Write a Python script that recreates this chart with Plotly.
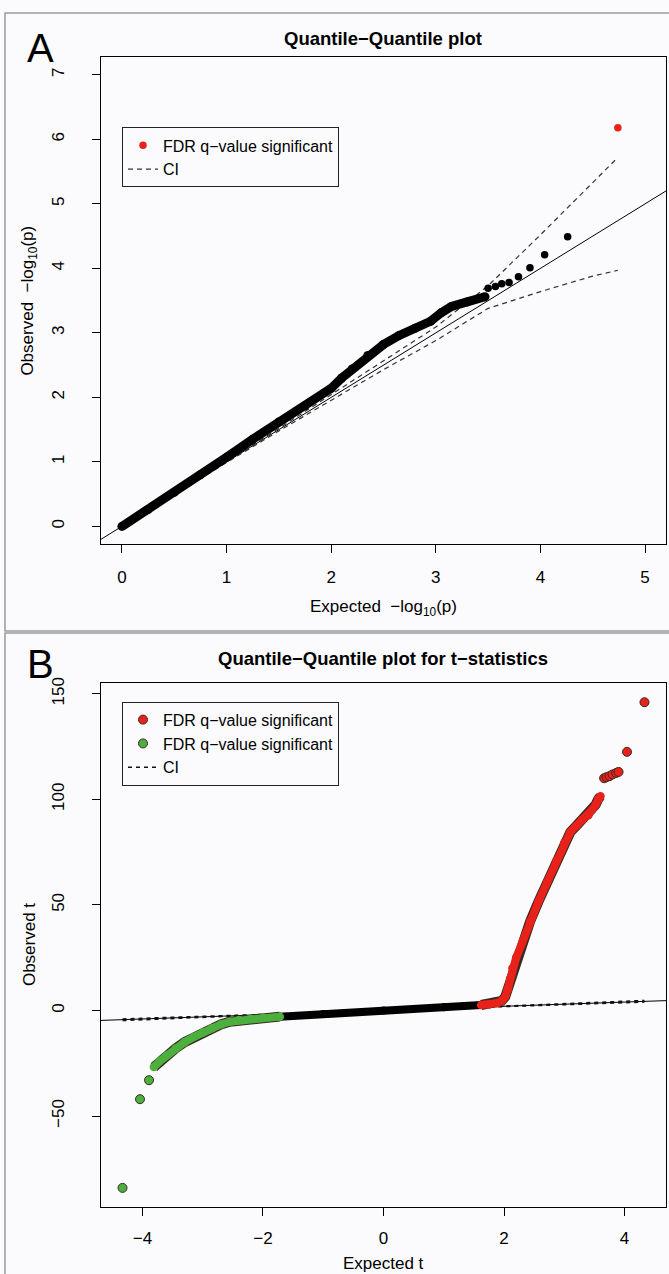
import plotly.graph_objects as go

# ---------------- DATA ----------------
# Panel A: -log10(p) QQ plot
a_band_exp = [0.0, 0.25, 0.5, 0.75, 1.0, 1.25, 1.5, 1.75, 2.0, 2.1, 2.2, 2.35, 2.5, 2.65, 2.8, 2.95, 3.05, 3.15, 3.3, 3.47]
a_band_obs = [0.0, 0.26, 0.53, 0.80, 1.07, 1.35, 1.62, 1.87, 2.14, 2.30, 2.44, 2.65, 2.82, 2.96, 3.07, 3.18, 3.31, 3.41, 3.48, 3.56]
a_tail_exp = [3.50, 3.57, 3.63, 3.70, 3.79, 3.90, 4.04, 4.26]
a_tail_obs = [3.69, 3.72, 3.76, 3.78, 3.87, 4.01, 4.21, 4.49]
a_sig_exp = [4.74]
a_sig_obs = [6.18]
a_ci_exp = [0.0, 0.5, 1.0, 1.5, 2.0, 2.5, 3.0, 3.5, 4.0, 4.5, 4.74]
a_ci_upper = [0.0, 0.5, 1.01, 1.52, 2.04, 2.56, 3.09, 3.73, 4.52, 5.33, 5.72]
a_ci_lower = [0.0, 0.5, 0.99, 1.48, 1.96, 2.43, 2.88, 3.38, 3.64, 3.88, 3.97]
a_xlim = [-0.2, 5.2]
a_ylim = [-0.28, 7.28]
a_xticks = [0, 1, 2, 3, 4, 5]
a_yticks = [0, 1, 2, 3, 4, 5, 6, 7]

# Panel B: t-statistics QQ plot
b_band_exp = [-1.72, -1.0, 0.0, 1.0, 1.62]
b_band_obs = [-3.0, -1.7, 0.0, 1.6, 2.6]
b_red_exp = [1.62, 1.75, 1.88, 1.96, 2.02, 2.06, 2.10, 2.14, 2.20, 2.30, 2.43, 2.57, 2.72, 2.87, 3.00, 3.10, 3.20, 3.30, 3.40, 3.46, 3.52, 3.56, 3.60]
b_red_obs = [2.6, 2.9, 3.5, 4.5, 6.5, 10.0, 15.0, 20.0, 25.0, 32.0, 42.0, 51.5, 61.0, 71.0, 79.5, 84.5, 87.5, 90.5, 92.5, 95.0, 97.5, 100.0, 101.5]
b_red_tail_exp = [3.66, 3.70, 3.75, 3.80, 3.86, 3.90, 4.04, 4.33]
b_red_tail_obs = [110.0, 110.5, 111.0, 111.8, 112.5, 113.0, 122.5, 146.0]
b_green_exp = [-1.72, -2.0, -2.2, -2.4, -2.55, -2.7, -2.85, -3.0, -3.15, -3.3, -3.45, -3.6, -3.72, -3.81]
b_green_obs = [-2.9, -3.4, -3.9, -4.5, -5.3, -6.6, -8.4, -10.4, -12.6, -15.0, -18.0, -21.3, -24.2, -26.8]
b_green_tail_exp = [-3.89, -4.04, -4.33]
b_green_tail_obs = [-33.0, -42.0, -84.0]
b_ci_exp = [-4.33, -3.0, -2.0, 0.0, 2.0, 3.0, 4.33]
b_ci_upper = [-4.0, -2.85, -1.92, 0.0, 2.08, 3.15, 4.75]
b_ci_lower = [-4.75, -3.15, -2.08, 0.0, 1.92, 2.85, 4.0]
b_xlim = [-4.687, 4.687]
b_ylim = [-93.2, 155.2]
b_xticks = [-4, -2, 0, 2, 4]
b_yticks = [-50, 0, 50, 100, 150]

abline_intercept = 0.0
abline_slope = 1.0

legend_sig = "FDR q\u2212value significant"
legend_ci = "CI"

# ---------------- STYLE ----------------
W, H = 669, 1274
FONT = "Liberation Sans, Arial, Helvetica, sans-serif"
BG = "#FBFBFD"
RED = "#E8221B"
GREEN = "#4CAF3E"
OUTLINE = "#3a2a20"


def px(x):
    return x / W


def py(y):
    return 1 - y / H


fig = go.Figure()

# ---- Panel A ----
fig.add_trace(go.Scatter(x=a_xlim, y=[abline_intercept + abline_slope * v for v in a_xlim],
                         mode="lines", line=dict(color="black", width=1),
                         xaxis="x", yaxis="y", showlegend=False, hoverinfo="skip"))
fig.add_trace(go.Scatter(x=a_ci_exp, y=a_ci_upper, mode="lines", name=legend_ci,
                         line=dict(color="#333", width=1.2, dash="5px,4px"),
                         xaxis="x", yaxis="y", legend="legend", legendrank=3))
fig.add_trace(go.Scatter(x=a_ci_exp, y=a_ci_lower, mode="lines", showlegend=False,
                         line=dict(color="#333", width=1.2, dash="5px,4px"),
                         xaxis="x", yaxis="y"))
fig.add_trace(go.Scatter(x=a_band_exp, y=a_band_obs, mode="lines+markers",
                         line=dict(color="black", width=9), marker=dict(color="black", size=9),
                         xaxis="x", yaxis="y", showlegend=False))
fig.add_trace(go.Scatter(x=a_tail_exp, y=a_tail_obs, mode="markers",
                         marker=dict(color="black", size=7.5),
                         xaxis="x", yaxis="y", showlegend=False))
fig.add_trace(go.Scatter(x=a_sig_exp, y=a_sig_obs, mode="markers", name=legend_sig,
                         marker=dict(color=RED, size=7.5),
                         xaxis="x", yaxis="y", legend="legend", legendrank=1))

# ---- Panel B ----
fig.add_trace(go.Scatter(x=b_xlim, y=[abline_intercept + abline_slope * v for v in b_xlim],
                         mode="lines", line=dict(color="black", width=1),
                         xaxis="x2", yaxis="y2", showlegend=False, hoverinfo="skip"))
fig.add_trace(go.Scatter(x=b_ci_exp, y=b_ci_upper, mode="lines", name=legend_ci,
                         line=dict(color="#111", width=1.6, dash="4px,4px"),
                         xaxis="x2", yaxis="y2", legend="legend2", legendrank=3))
fig.add_trace(go.Scatter(x=b_ci_exp, y=b_ci_lower, mode="lines", showlegend=False,
                         line=dict(color="#111", width=1.6, dash="4px,4px"),
                         xaxis="x2", yaxis="y2"))
fig.add_trace(go.Scatter(x=b_band_exp, y=b_band_obs, mode="lines+markers",
                         line=dict(color="black", width=8), marker=dict(color="black", size=8),
                         xaxis="x2", yaxis="y2", showlegend=False))
# green (negative significant)
fig.add_trace(go.Scatter(x=b_green_exp, y=b_green_obs, mode="lines",
                         line=dict(color=OUTLINE, width=10),
                         xaxis="x2", yaxis="y2", showlegend=False))
fig.add_trace(go.Scatter(x=b_green_exp, y=b_green_obs, mode="lines+markers",
                         line=dict(color=GREEN, width=8),
                         marker=dict(color=GREEN, size=8.5),
                         xaxis="x2", yaxis="y2", showlegend=False))
fig.add_trace(go.Scatter(x=b_green_tail_exp, y=b_green_tail_obs, mode="markers", name=legend_sig,
                         marker=dict(color=GREEN, size=9, line=dict(color=OUTLINE, width=1)),
                         xaxis="x2", yaxis="y2", legend="legend2", legendrank=2))
# red (positive significant)
fig.add_trace(go.Scatter(x=b_red_exp, y=b_red_obs, mode="lines",
                         line=dict(color=OUTLINE, width=10),
                         xaxis="x2", yaxis="y2", showlegend=False))
fig.add_trace(go.Scatter(x=b_red_exp, y=b_red_obs, mode="lines+markers",
                         line=dict(color=RED, width=8),
                         marker=dict(color=RED, size=8.5),
                         xaxis="x2", yaxis="y2", showlegend=False))
fig.add_trace(go.Scatter(x=b_red_tail_exp, y=b_red_tail_obs, mode="markers", name=legend_sig,
                         marker=dict(color=RED, size=9, line=dict(color=OUTLINE, width=1)),
                         xaxis="x2", yaxis="y2", legend="legend2", legendrank=1))

axis_common = dict(showline=True, linecolor="black", linewidth=1, mirror=True,
                   ticks="outside", ticklen=8, tickwidth=1, tickcolor="black",
                   showgrid=False, zeroline=False,
                   tickfont=dict(family=FONT, size=17, color="black"))

xdom = [px(101), px(666)]
legend_common = dict(xanchor="left", yanchor="top", bordercolor="#222", borderwidth=1,
                     bgcolor="rgba(0,0,0,0)", font=dict(family=FONT, size=16, color="black"),
                     itemwidth=30, tracegroupgap=0)
fig.update_layout(
    width=W, height=H,
    margin=dict(l=0, r=0, t=0, b=0),
    paper_bgcolor=BG, plot_bgcolor=BG,
    font=dict(family=FONT, color="black"),
    xaxis=dict(domain=xdom, range=a_xlim, tickvals=a_xticks, anchor="y",
               ticklabelstandoff=9, **axis_common),
    yaxis=dict(domain=[py(541), py(51)], range=a_ylim, tickvals=a_yticks, anchor="x",
               tickangle=-90, ticklabelstandoff=21, **axis_common),
    xaxis2=dict(domain=xdom, range=b_xlim, tickvals=b_xticks, anchor="y2",
                ticklabelstandoff=7, **axis_common),
    yaxis2=dict(domain=[py(1207), py(680)], range=b_ylim, tickvals=b_yticks, anchor="x2",
                tickangle=-90, ticklabelstandoff=21, **axis_common),
    legend=dict(x=px(122), y=py(122), **legend_common),
    legend2=dict(x=px(122), y=py(699), **legend_common),
    showlegend=True,
)

ann = []
def add_text(text, x, y, size, angle=0, bold=False):
    ann.append(dict(text=f"<b>{text}</b>" if bold else text, x=px(x), y=py(y),
                    xref="paper", yref="paper", showarrow=False, xanchor="center",
                    yanchor="middle", textangle=angle,
                    font=dict(family=FONT, size=size, color="black")))

add_text("A", 40, 42, 40)
add_text("Quantile\u2212Quantile plot", 383.5, 33, 18.5, bold=True)
add_text("Expected  \u2212log<sub>10</sub>(p)", 383.5, 605, 17)
add_text("Observed  \u2212log<sub>10</sub>(p)", 29, 296, 17, angle=-90)
add_text("B", 40, 661, 40)
add_text("Quantile\u2212Quantile plot for t\u2212statistics", 383.5, 656, 18.5, bold=True)
add_text("Expected t", 383.5, 1263, 17)
add_text("Observed t", 29, 943.5, 17, angle=-90)
fig.update_layout(annotations=ann)

fig.update_layout(shapes=[
    dict(type="rect", xref="paper", yref="paper", x0=px(5), x1=px(690), y0=py(628), y1=py(7),
         line=dict(color="#9a9a9a", width=1.5)),
    dict(type="rect", xref="paper", yref="paper", x0=px(5), x1=px(690), y0=py(1300), y1=py(630),
         line=dict(color="#9a9a9a", width=1.5)),
])

fig.write_html("out.html", config={"displayModeBar": False},
               post_script="document.body.style.margin='0';document.body.style.padding='0';"
                           "document.body.style.overflow='hidden';")
